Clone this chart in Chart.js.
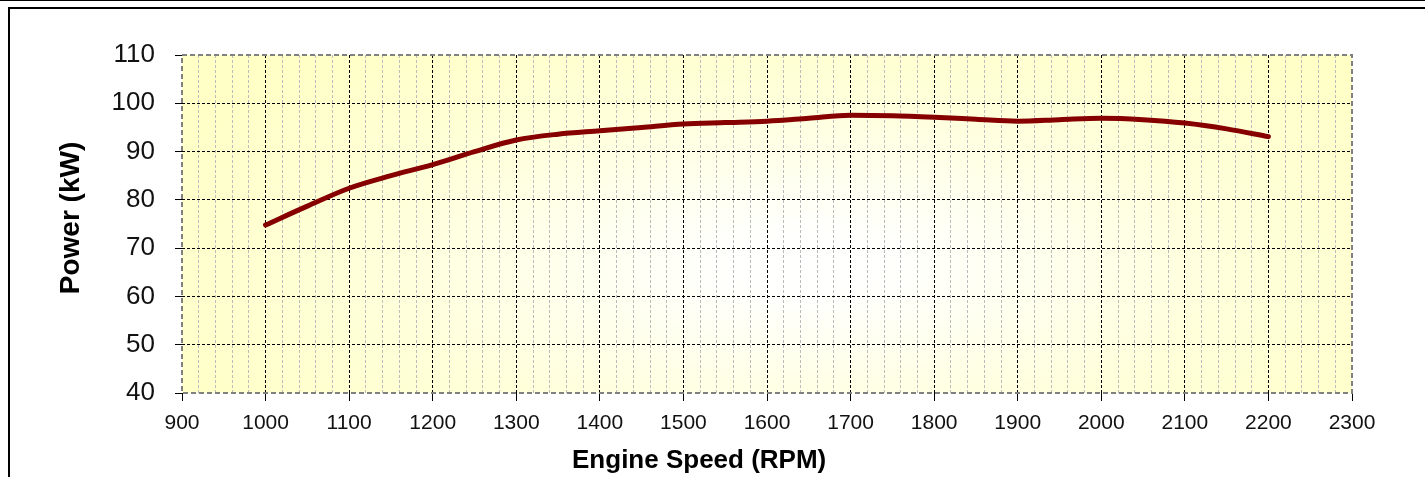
<!DOCTYPE html>
<html>
<head>
<meta charset="utf-8">
<script src="https://cdn.jsdelivr.net/npm/chart.js@4.4.1/dist/chart.umd.min.js"></script>
<style>
  html, body { margin: 0; padding: 0; background: #fff; overflow: hidden; }
  #wrap { position: absolute; left: 0; top: 0; width: 1425px; height: 477px; }
  .topline { position: absolute; left: 0; top: 0; width: 1425px; height: 1px; background: #000; }
  .frame { position: absolute; left: 8px; top: 7px; width: 1417px; height: 470px; border-left: 2px solid #000; border-top: 2px solid #000; box-sizing: border-box; }
  canvas { position: absolute; left: 0; top: 0; }
</style>
</head>
<body>
<div class="topline"></div>
<div class="frame"></div>
<div id="wrap"><canvas id="c" width="1425" height="477"></canvas></div>
<script>
// ---- data ----
const rpm = [1000, 1050, 1100, 1150, 1200, 1250, 1300, 1350, 1400, 1450, 1500, 1550, 1600,
             1650, 1700, 1750, 1800, 1850, 1900, 1950, 2000, 2050, 2100, 2150, 2200];
const powerKW = [74.8, 78.7, 82.4, 85.0, 87.3, 90.0, 92.4, 93.6, 94.3, 95.0, 95.7, 96.0, 96.3,
                 96.9, 97.5, 97.4, 97.1, 96.7, 96.3, 96.6, 96.9, 96.6, 95.9, 94.7, 93.1];
const xTickLabels = ['900','1000','1100','1200','1300','1400','1500','1600','1700','1800','1900','2000','2100','2200','2300'];
const yTickLabels = ['40','50','60','70','80','90','100','110'];
const xTitle = 'Engine Speed (RPM)';
const yTitle = 'Power (kW)';

const xMin = Number(xTickLabels[0]), xMax = Number(xTickLabels[xTickLabels.length - 1]);
const yMin = Number(yTickLabels[0]), yMax = Number(yTickLabels[yTickLabels.length - 1]);
const FONT = '"Liberation Sans", Arial, sans-serif';

const bgPlugin = {
  id: 'bg',
  beforeDraw(chart) {
    const {ctx, chartArea: a} = chart;
    const cx = (a.left + a.right) / 2 + 40, cy = (a.top + a.bottom) / 2 + 40;
    const rx = 720, ry = 280;
    ctx.save();
    ctx.beginPath();
    ctx.rect(a.left, a.top, a.right - a.left, a.bottom - a.top);
    ctx.clip();
    ctx.translate(cx, cy);
    ctx.scale(1, ry / rx);
    const g = ctx.createRadialGradient(0, 0, 0, 0, 0, rx);
    g.addColorStop(0, '#FFFFFF');
    g.addColorStop(0.15, '#FFFFFB');
    g.addColorStop(0.6, '#FFFFDA');
    g.addColorStop(1, '#FFFFC6');
    ctx.fillStyle = g;
    ctx.fillRect(-rx * 2, -rx * 2, rx * 4, rx * 4);
    ctx.restore();
  },
  beforeDatasetsDraw(chart) {
    const {ctx, chartArea: a} = chart;
    ctx.save();
    ctx.strokeStyle = '#808080';
    ctx.lineWidth = 2;
    ctx.setLineDash([5, 3]);
    ctx.strokeRect(a.left, a.top, a.right - a.left, a.bottom - a.top);
    ctx.restore();
  },
  afterDraw(chart) {
    // axis titles (placed like the reference: not centred on the plot area)
    const {ctx, chartArea: a} = chart;
    ctx.save();
    ctx.fillStyle = '#000';
    ctx.textAlign = 'center';
    ctx.textBaseline = 'middle';
    ctx.font = 'bold 26px ' + FONT;
    ctx.fillText(xTitle, a.left + (a.right - a.left) * 0.442, 461);
    ctx.translate(71, 218);
    ctx.rotate(-Math.PI / 2);
    ctx.font = 'bold 28px ' + FONT;
    ctx.fillText(yTitle, 0, 0);
    ctx.restore();
  }
};

new Chart(document.getElementById('c'), {
  type: 'line',
  data: {
    datasets: [{
      data: rpm.map((x, i) => ({x: x, y: powerKW[i]})),
      borderColor: '#870000',
      borderWidth: 5,
      pointRadius: 0,
      fill: false,
      cubicInterpolationMode: 'monotone',
      borderCapStyle: 'round'
    }]
  },
  options: {
    responsive: false,
    animation: false,
    events: [],
    layout: { padding: { left: 10, top: 55, right: 73, bottom: 0 } },
    plugins: { legend: { display: false }, tooltip: { enabled: false } },
    scales: {
      x: {
        type: 'linear',
        min: xMin, max: xMax,
        afterFit(s) { s.height = 84; },
        afterBuildTicks(s) {
          const t = [];
          for (let v = xMin; v <= xMax; v += 20) t.push({value: v});
          s.ticks = t;
        },
        ticks: {
          autoSkip: false, maxRotation: 0, minRotation: 0,
          padding: 10,
          color: '#111',
          font: { family: FONT, size: 21 },
          callback: (v) => xTickLabels.includes(String(v)) ? String(v) : ''
        },
        grid: {
          color: (c) => {
            const v = c.tick && c.tick.value;
            if (v === xMin || v === xMax) return 'rgba(0,0,0,0)';
            return v % 100 === 0 ? '#000000' : '#BBBBBB';
          },
          lineWidth: 1,
          tickLength: 8,
          tickColor: (c) => {
            const v = c.tick && c.tick.value;
            return v % 100 === 0 ? '#000' : 'rgba(0,0,0,0)';
          }
        },
        border: { display: false, dash: [3, 2] },
        title: { display: false }
      },
      y: {
        type: 'linear',
        min: yMin, max: yMax,
        afterFit(s) { s.width = 172; },
        ticks: {
          stepSize: 10,
          padding: 20,
          color: '#111',
          font: { family: FONT, size: 26 },
          callback: (v) => yTickLabels.includes(String(v)) ? String(v) : ''
        },
        grid: {
          color: (c) => {
            const v = c.tick && c.tick.value;
            if (v === yMin || v === yMax) return 'rgba(0,0,0,0)';
            return '#000000';
          },
          lineWidth: 1,
          tickLength: 7,
          tickColor: '#000'
        },
        border: { display: false, dash: [3, 2] },
        title: { display: false }
      }
    }
  },
  plugins: [bgPlugin]
});
</script>
</body>
</html>
